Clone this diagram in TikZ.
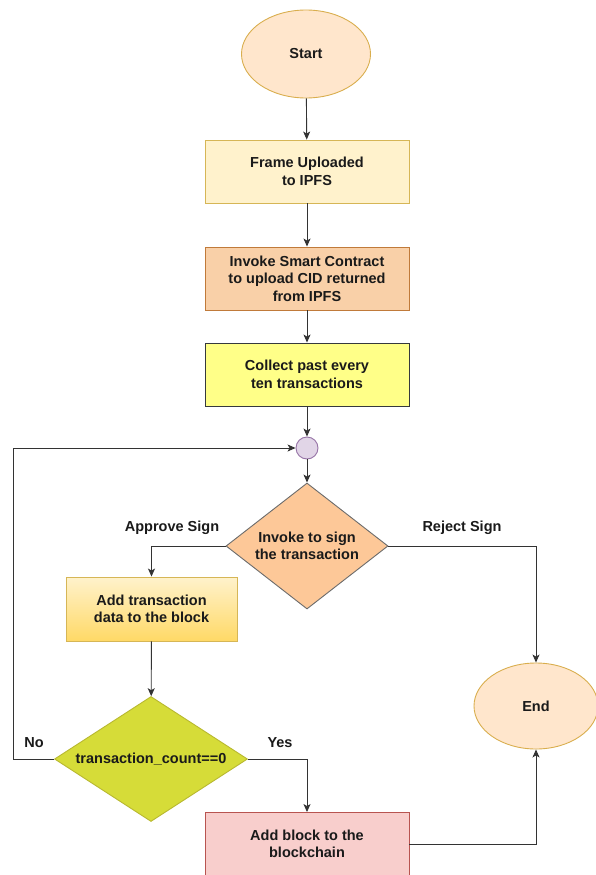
\documentclass[tikz,border=0pt]{standalone}
\usepackage{fontspec}
\setmainfont{Liberation Sans}
\usetikzlibrary{shapes.geometric,arrows.meta,positioning}

\definecolor{linegray}{HTML}{333333}
\definecolor{txtcol}{HTML}{1A1A1A}
\definecolor{termfill}{HTML}{FFE6CC}
\definecolor{termdraw}{HTML}{D9AE4E}
\definecolor{paleyellow}{HTML}{FFF2CC}
\definecolor{goldline}{HTML}{D6B656}
\definecolor{goldfill}{HTML}{FFD966}
\definecolor{peachfill}{HTML}{F9D0A8}
\definecolor{peachdraw}{HTML}{C07A3A}
\definecolor{lemonfill}{HTML}{FFFF88}
\definecolor{darkline}{HTML}{36393D}
\definecolor{lilacfill}{HTML}{E1D5E7}
\definecolor{lilacdraw}{HTML}{9673A6}
\definecolor{orangefill}{HTML}{FDC898}
\definecolor{orangedraw}{HTML}{6B6B6B}
\definecolor{limefill}{HTML}{D6DC38}
\definecolor{limedraw}{HTML}{B8B830}
\definecolor{rosefill}{HTML}{F8CECC}
\definecolor{rosedraw}{HTML}{B85450}

\tikzset{
  basefont/.style={font=\fontsize{14.5}{17.5}\selectfont\bfseries, text=txtcol, align=center},
  terminal/.style={ellipse, basefont, draw=termdraw, fill=termfill, line width=0.9pt,
    minimum width=#1, inner sep=0pt},
  procbox/.style={rectangle, basefont, line width=0.9pt, minimum width=204pt,
    minimum height=63pt, inner sep=0pt},
  decision/.style={diamond, line width=0.9pt, inner sep=0pt},
  junction/.style={circle, draw=lilacdraw, fill=lilacfill, line width=0.9pt,
    minimum size=22pt, inner sep=0pt},
  caption/.style={basefont, inner sep=0pt},
  flow/.style={draw=linegray, line width=0.9pt,
    -{Stealth[length=8pt,width=7pt,inset=2pt]}},
}

\begin{document}
\begin{tikzpicture}[x=1pt,y=-1pt]
  \useasboundingbox (0,0) rectangle (595,875);

  % main column
  \node[terminal=129pt, minimum height=88pt] (start) at (306,54) {Start};
  \node[procbox, draw=goldline, fill=paleyellow] (upload) at (307,171.5)
    {Frame Uploaded\\to IPFS};
  \node[procbox, draw=peachdraw, fill=peachfill] (invoke) at (307,278.5)
    {Invoke Smart Contract\\to upload CID returned\\from IPFS};
  \node[procbox, draw=darkline, fill=lemonfill] (collect) at (307,374.5)
    {Collect past every\\ten transactions};
  \node[junction] (join) at (307,448) {};

  % signing decision
  \node[decision, draw=orangedraw, fill=orangefill,
        minimum width=162pt, minimum height=126pt] (sign) at (307,546) {};
  \node[caption] (signtxt) at (sign.center) {Invoke to sign\\the transaction};

  % approve branch
  \node[procbox, draw=goldline, top color=paleyellow, bottom color=goldfill,
        minimum width=171pt, minimum height=64pt] (addtx) at (151.5,609)
    {Add transaction\\data to the block};

  \node[decision, draw=limedraw, fill=limefill,
        minimum width=193pt, minimum height=125pt] (count) at (151,759) {};
  \node[caption] (counttxt) at (count.center) {transaction\_count==0};

  \node[procbox, draw=rosedraw, fill=rosefill] (block) at (307,844)
    {Add block to the\\blockchain};

  \node[terminal=124pt, minimum height=86pt] (finish) at (536,706) {End};

  % branch labels
  \node[caption] (lblapprove) at (172,528) {Approve Sign};
  \node[caption] (lblreject) at (462,528) {Reject Sign};
  \node[caption] (lblno) at (34,743) {No};
  \node[caption] (lblyes) at (280,743) {Yes};

  \coordinate (loopcorner) at (13,759);

  % connectors
  \draw[flow] (start) -- (upload);
  \draw[flow] (upload) -- (invoke);
  \draw[flow] (invoke) -- (collect);
  \draw[flow] (collect) -- (join);
  \draw[flow] (join) -- (sign);
  \draw[flow] (sign.west) -| (addtx.north);
  \draw[flow] (sign.east) -| (finish.north);
  \draw[flow] (addtx) -- (count);
  \draw[flow] (count.east) -| (block.north);
  \draw[flow] (count.west) -- (loopcorner) |- (join.west);
  \draw[flow] (block.east) -| (finish.south);
\end{tikzpicture}
\end{document}
